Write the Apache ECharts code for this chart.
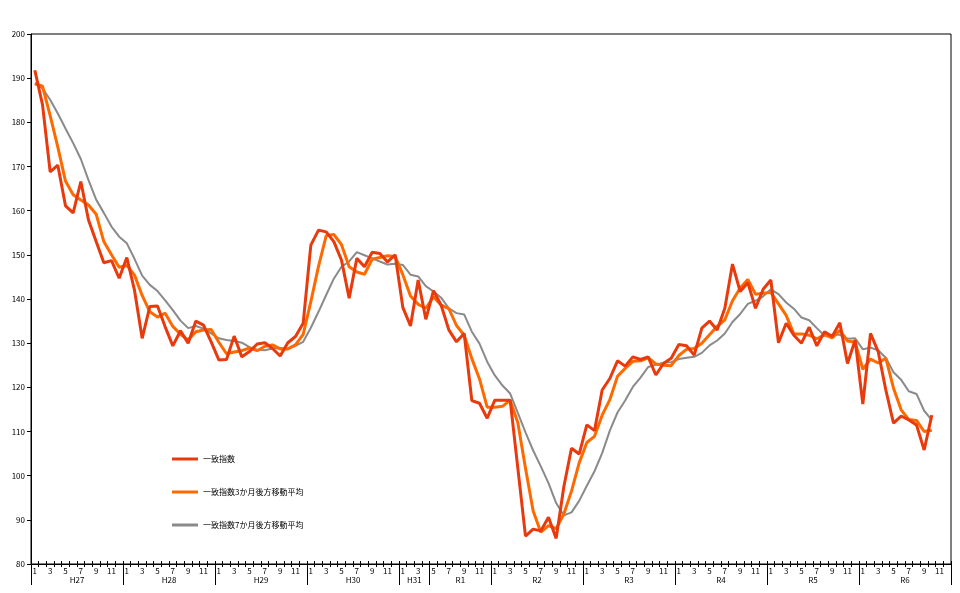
<!DOCTYPE html>
<html><head><meta charset="utf-8">
<script src="https://cdn.jsdelivr.net/npm/echarts@6/dist/echarts.min.js"></script>
<style>html,body{margin:0;padding:0;background:#fff}#c{width:960px;height:593px}</style>
</head><body><div id="c"></div>
<script>
// Era-year labels and number of months in each segment
const yearLabels = ['H27','H28','H29','H30','H31','R1','R2','R3','R4','R5','R6'];
const yearMonths = [12,12,12,12,4,8,12,12,12,12,12];
const yearStartMonth = [1,1,1,1,1,5,1,1,1,1,1];

// 一致指数 (coincident index), monthly from H27/1
const ciValues = [191.8,184.0,168.8,170.3,161.1,159.5,166.6,157.9,153.0,148.2,148.7,144.7,
149.4,142.0,131.1,138.3,138.4,133.7,129.4,132.8,130.0,135.0,134.1,130.3,
126.2,126.3,131.6,126.9,128.1,129.8,130.1,128.8,127.1,130.1,131.5,134.5,
152.2,155.6,155.2,153.0,148.8,140.2,149.2,147.3,150.6,150.3,148.4,150.0,
138.1,133.9,144.3,135.4,141.9,138.6,133.0,130.3,132.2,117.0,116.4,113.0,
117.1,117.1,117.1,101.7,86.3,87.9,87.5,90.6,85.8,97.5,106.2,104.9,
111.5,110.2,119.4,122.0,126.0,124.8,126.9,126.3,126.9,122.8,125.4,126.6,
129.7,129.4,127.3,133.4,135.0,133.0,137.9,147.9,141.7,143.7,137.9,142.2,
144.3,130.1,134.5,131.8,130.0,133.6,129.4,132.6,131.5,134.6,125.4,130.7,
116.2,132.2,128.1,119.4,111.9,113.5,112.6,111.5,105.8,113.7];

// 一致指数3か月後方移動平均
const ma3Values = [188.8,188.2,181.5,174.4,166.7,163.6,162.4,161.3,159.2,153.0,150.0,147.2,
147.6,145.4,140.8,137.1,135.9,136.8,133.8,132.0,130.7,132.6,133.0,133.1,
130.2,127.6,128.0,128.3,128.9,128.3,129.3,129.6,128.7,128.7,129.6,132.0,
139.4,147.4,154.3,154.6,152.3,147.3,146.1,145.6,149.0,149.4,149.8,149.6,
145.5,140.7,138.8,137.9,140.5,138.6,137.8,134.0,131.8,126.5,121.9,115.5,
115.5,115.7,117.1,112.0,101.7,92.0,87.2,88.7,88.0,91.3,96.5,102.9,
107.5,108.9,113.7,117.2,122.5,124.3,125.9,126.0,126.7,125.3,125.0,124.9,
127.2,128.6,128.8,130.0,131.9,133.8,135.3,139.6,142.5,144.4,141.1,141.3,
141.5,138.9,136.3,132.1,132.1,131.8,131.0,131.9,131.2,132.9,130.5,130.2,
124.1,126.4,125.5,126.6,119.8,114.9,112.7,112.5,110.0,110.3];

// 一致指数7か月後方移動平均
const ma7Values = [188.7,187.7,185.1,182.0,178.6,175.3,171.7,166.9,162.5,159.5,156.4,154.1,
152.6,149.1,145.3,143.2,141.8,139.7,137.5,135.1,133.4,133.9,133.3,132.2,
131.1,130.7,130.5,130.1,129.1,128.5,128.4,128.8,128.9,128.7,129.4,130.3,
133.5,137.1,140.9,144.6,147.3,148.5,150.6,149.9,149.2,148.5,147.8,148.0,
147.7,145.5,145.1,142.9,141.7,140.3,137.9,136.8,136.5,132.6,129.9,125.8,
122.7,120.4,118.6,114.2,109.8,105.7,102.1,98.3,93.8,91.0,91.7,94.3,
97.7,101.0,105.1,110.2,114.3,117.0,120.1,122.2,124.6,125.1,125.6,125.7,
126.4,126.7,126.9,127.8,129.5,130.6,132.2,134.8,136.6,138.9,139.6,140.6,
142.2,141.1,139.2,137.8,135.8,135.2,133.4,131.7,131.9,131.9,131.0,131.1,
128.6,129.0,128.4,126.7,123.4,121.7,119.1,118.5,114.7,112.6];

const seriesNames = ['一致指数','一致指数3か月後方移動平均','一致指数7か月後方移動平均'];

// build month categories
const monthCats = [];
const yearCenters = {};
const yearBounds = new Set([0]);
let pos = 0;
yearLabels.forEach((y, k) => {
  for (let m = 0; m < yearMonths[k]; m++) monthCats.push(y + '/' + (yearStartMonth[k] + m));
  yearCenters[pos + yearMonths[k] / 2] = y;
  pos += yearMonths[k];
  yearBounds.add(pos);
});
const boundCats = [];
for (let j = 0; j <= monthCats.length; j++) boundCats.push(String(j));

const font = '"Noto Sans CJK JP", "Liberation Sans", sans-serif';
const chart = echarts.init(document.getElementById('c'), null, {renderer: 'canvas'});
chart.setOption({
  animation: false,
  backgroundColor: '#fff',
  grid: {left: 31, right: 9, top: 34, bottom: 29, show: true, borderColor: '#000', borderWidth: 1, containLabel: false},
  legend: {
    data: seriesNames, orient: 'vertical', left: 172, top: 455, itemGap: 25, padding: 0,
    itemWidth: 26, itemHeight: 3, icon: 'rect',
    textStyle: {fontSize: 8, color: '#000', fontFamily: font}
  },
  xAxis: [
    {type: 'category', data: monthCats, boundaryGap: true, position: 'bottom',
     axisLine: {lineStyle: {color: '#000', width: 1}},
     axisTick: {show: true, interval: 0, length: 3, lineStyle: {color: '#000'}},
     axisLabel: {interval: (i, v) => (+v.split('/')[1]) % 2 === 1, formatter: v => v.split('/')[1],
                 fontSize: 8, color: '#000', margin: 3, fontFamily: font},
     splitLine: {show: false}},
    {type: 'category', data: monthCats, boundaryGap: true, position: 'bottom', gridIndex: 0,
     axisLine: {show: false},
     axisTick: {show: true, inside: true, interval: 0, length: 3, lineStyle: {color: '#000'}},
     axisLabel: {show: false}, splitLine: {show: false}},
    {type: 'category', data: boundCats, boundaryGap: false, position: 'bottom', gridIndex: 0,
     axisLine: {show: false},
     axisTick: {show: true, length: 21, interval: (i) => yearBounds.has(i), lineStyle: {color: '#000'}},
     axisLabel: {show: true, interval: (i) => yearCenters[i] !== undefined, formatter: (v) => yearCenters[+v] || '',
                 fontSize: 8, color: '#000', margin: 12, fontFamily: font},
     splitLine: {show: false}}
  ],
  yAxis: {
    type: 'value', min: 80, max: 200, interval: 10,
    axisLine: {show: true, lineStyle: {color: '#000'}},
    axisTick: {show: true, length: 4, lineStyle: {color: '#000'}},
    axisLabel: {fontSize: 8, color: '#000', margin: 6, fontFamily: font},
    splitLine: {show: false}
  },
  series: [
    {name: seriesNames[2], type: 'line', data: ma7Values, symbol: 'none', z: 2,
     lineStyle: {width: 2, color: '#8a8a8a'}, itemStyle: {color: '#8a8a8a'}},
    {name: seriesNames[1], type: 'line', data: ma3Values, symbol: 'none', z: 3,
     lineStyle: {width: 3, color: '#ff6a00'}, itemStyle: {color: '#ff6a00'}},
    {name: seriesNames[0], type: 'line', data: ciValues, symbol: 'none', z: 4,
     lineStyle: {width: 3, color: '#e83a0c'}, itemStyle: {color: '#e83a0c'}}
  ]
});
</script></body></html>
